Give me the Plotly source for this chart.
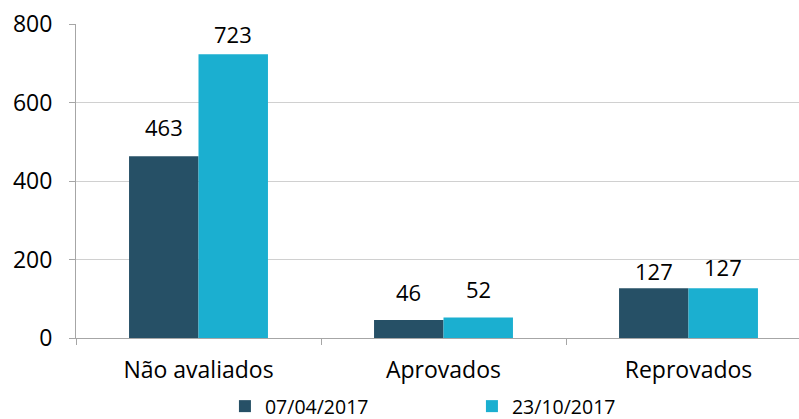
import plotly.graph_objects as go

categories = ["Não avaliados", "Aprovados", "Reprovados"]
series_names = ["07/04/2017", "23/10/2017"]
values_a = [463, 46, 127]
values_b = [723, 52, 127]
y_ticks = [0, 200, 400, 600, 800]

# label placement (px above bar top to label centre), style only
label_gap_a = [28, 27, 16]
label_gap_b = [19, 28, 20]

colors = ["#265066", "#1BAFD0"]
font_family = "Open Sans, Lato, sans-serif"
bar_half_px = 34.75

fig = go.Figure()
for name, vals, col in zip(series_names, [values_a, values_b], colors):
    fig.add_trace(go.Bar(
        x=categories, y=vals, name=name, marker_color=col,
        marker_line_width=0, hoverinfo="skip",
    ))

for vals, gaps, sign in [(values_a, label_gap_a, -1), (values_b, label_gap_b, 1)]:
    for cat, v, g in zip(categories, vals, gaps):
        fig.add_annotation(
            x=cat, y=v, xref="x", yref="y", text=str(v), showarrow=False,
            xanchor="center", yanchor="middle", xshift=sign * bar_half_px, yshift=g + 1,
            font=dict(size=22, color="#000000", family=font_family),
        )

fig.update_layout(
    width=799, height=419,
    margin=dict(l=76, r=0, t=24, b=81, autoexpand=False),
    paper_bgcolor="white", plot_bgcolor="white",
    barmode="group", bargap=0.433, bargroupgap=0,
    font=dict(family=font_family, size=18, color="#000000"),
    showlegend=True,
    legend=dict(orientation="h", x=0.206, xanchor="left", y=-0.218, yanchor="middle",
                font=dict(size=19.5), itemwidth=30, traceorder="normal",
                entrywidth=202, bgcolor="rgba(0,0,0,0)"),
    xaxis=dict(range=[-0.5, 2.451], showgrid=False, showline=True, linecolor="#A6A6A6",
               linewidth=1, ticks="outside", tickson="boundaries", ticklen=6,
               tickcolor="#A6A6A6", tickfont=dict(size=23), automargin=False,
               ticklabelstandoff=11),
    yaxis=dict(range=[0, 800], tickvals=y_ticks, showgrid=True, gridcolor="#D0D0D0",
               showline=True, linecolor="#A6A6A6", linewidth=1, ticks="outside",
               ticklen=6, tickcolor="#A6A6A6", tickfont=dict(size=23), zeroline=False,
               automargin=False, ticklabelstandoff=12),
)

fig.write_html(
    "out.html",
    config={"displayModeBar": False},
    post_script="document.body.style.margin='0';document.body.style.overflow='hidden';",
)
